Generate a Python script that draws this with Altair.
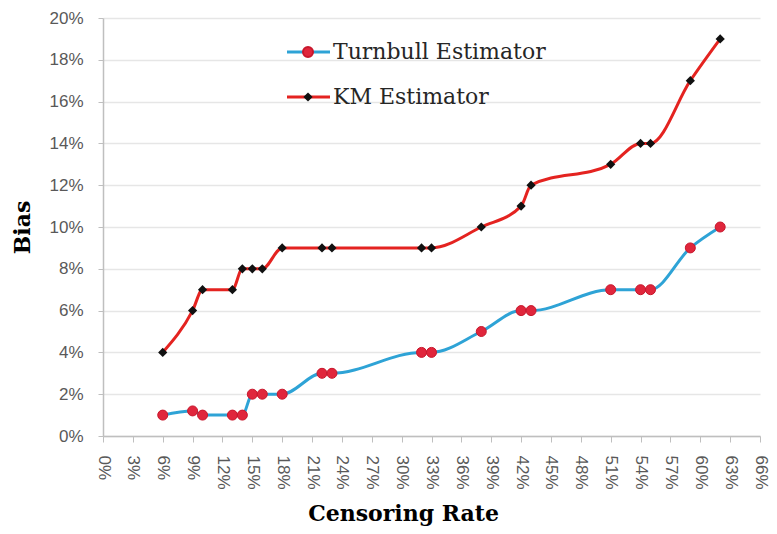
import altair as alt
import pandas as pd

# ---- data ----
censoring_rate = [0.06, 0.09, 0.10, 0.13, 0.14, 0.15, 0.16, 0.18, 0.22, 0.23,
                  0.32, 0.33, 0.38, 0.42, 0.43, 0.51, 0.54, 0.55, 0.59, 0.62]
turnbull_bias = [0.010, 0.012, 0.010, 0.010, 0.010, 0.020, 0.020, 0.020, 0.030, 0.030,
                 0.040, 0.040, 0.050, 0.060, 0.060, 0.070, 0.070, 0.070, 0.090, 0.100]
km_bias = [0.040, 0.060, 0.070, 0.070, 0.080, 0.080, 0.080, 0.090, 0.090, 0.090,
           0.090, 0.090, 0.100, 0.110, 0.120, 0.130, 0.140, 0.140, 0.170, 0.190]
x_ticks = [0.00, 0.03, 0.06, 0.09, 0.12, 0.15, 0.18, 0.21, 0.24, 0.27, 0.30, 0.33,
           0.36, 0.39, 0.42, 0.45, 0.48, 0.51, 0.54, 0.57, 0.60, 0.63, 0.66]
y_ticks = [0.00, 0.02, 0.04, 0.06, 0.08, 0.10, 0.12, 0.14, 0.16, 0.18, 0.20]
series_names = ["Turnbull Estimator", "KM Estimator"]

df = pd.DataFrame({"rate": censoring_rate, "turnbull": turnbull_bias, "km": km_bias})

BLUE = "#2ea3d6"
RED_LINE = "#e42320"
RED_PT = "#e0263c"

x_enc = alt.X(
    "rate:Q",
    scale=alt.Scale(domain=[0, 0.66], nice=False),
    axis=alt.Axis(values=x_ticks, format=".0%", labelAngle=90, labelAlign="left",
                  labelBaseline="middle", labelPadding=13, tickSize=6, grid=False,
                  title="Censoring Rate", titleX=300, titleY=77,
                  titleAlign="center", titleBaseline="middle", labelOverlap=False,
                  labelFlush=False),
)

y_axis = alt.Axis(values=y_ticks, format=".0%", tickSize=5, labelPadding=15, grid=True,
                  title="Bias", titleX=-81, titleY=209, titleAlign="center",
                  titleBaseline="middle", labelOverlap=False)
y_scale = alt.Scale(domain=[0, 0.20], nice=False)

base = alt.Chart(df)

turn_line = base.mark_line(color=BLUE, strokeWidth=3, interpolate="monotone").encode(
    x=x_enc, y=alt.Y("turnbull:Q", scale=y_scale, axis=y_axis))
turn_pts = base.mark_point(shape="circle", filled=True, size=100, color=RED_PT,
                           stroke="#c8172c", strokeWidth=1, opacity=1).encode(
    x=x_enc, y=alt.Y("turnbull:Q", scale=y_scale, axis=y_axis))
km_line = base.mark_line(color=RED_LINE, strokeWidth=3, interpolate="monotone").encode(
    x=x_enc, y=alt.Y("km:Q", scale=y_scale, axis=y_axis))
km_pts = base.mark_point(shape="diamond", filled=True, size=85, color="#111111",
                         opacity=1).encode(
    x=x_enc, y=alt.Y("km:Q", scale=y_scale, axis=y_axis))

# ---- manual legend (line + marker + label) ----
leg_t = alt.Chart(pd.DataFrame({"name": [series_names[0]]}))
leg_k = alt.Chart(pd.DataFrame({"name": [series_names[1]]}))

lt_rule = leg_t.mark_rule(color=BLUE, strokeWidth=3).encode(
    x=alt.value(184), x2=alt.value(227), y=alt.value(34))
lt_pt = leg_t.mark_point(shape="circle", filled=True, size=100, color=RED_PT,
                         stroke="#c8172c", opacity=1).encode(
    x=alt.value(205), y=alt.value(34))
lt_txt = leg_t.mark_text(align="left", baseline="middle", font="DejaVu Serif",
                         fontSize=22, color="#262626").encode(
    x=alt.value(230), y=alt.value(34), text="name:N")

lk_rule = leg_k.mark_rule(color=RED_LINE, strokeWidth=3).encode(
    x=alt.value(184), x2=alt.value(227), y=alt.value(79))
lk_pt = leg_k.mark_point(shape="diamond", filled=True, size=85, color="#111111",
                         opacity=1).encode(
    x=alt.value(205), y=alt.value(79))
lk_txt = leg_k.mark_text(align="left", baseline="middle", font="DejaVu Serif",
                         fontSize=22, color="#262626").encode(
    x=alt.value(230), y=alt.value(79), text="name:N")

chart = alt.layer(
    turn_line, km_line, turn_pts, km_pts,
    lt_rule, lt_pt, lt_txt, lk_rule, lk_pt, lk_txt,
).properties(
    width=657, height=418,
    autosize=alt.AutoSizeParams(type="none"),
    padding={"left": 95, "top": 10, "right": 9, "bottom": 90},
    background="white",
).configure_view(
    stroke=None
).configure_axis(
    domainColor="#bfbfbf", domainWidth=1.5,
    tickColor="#bfbfbf", tickWidth=1,
    labelColor="#595959", labelFont="Liberation Sans", labelFontSize=17,
    titleColor="#000000", titleFont="DejaVu Serif", titleFontWeight="bold",
    titleFontSize=22,
    gridColor="#e6e6e6", gridWidth=1.5,
)

chart.save("out.html", embed_options={"renderer": "svg", "actions": False})
